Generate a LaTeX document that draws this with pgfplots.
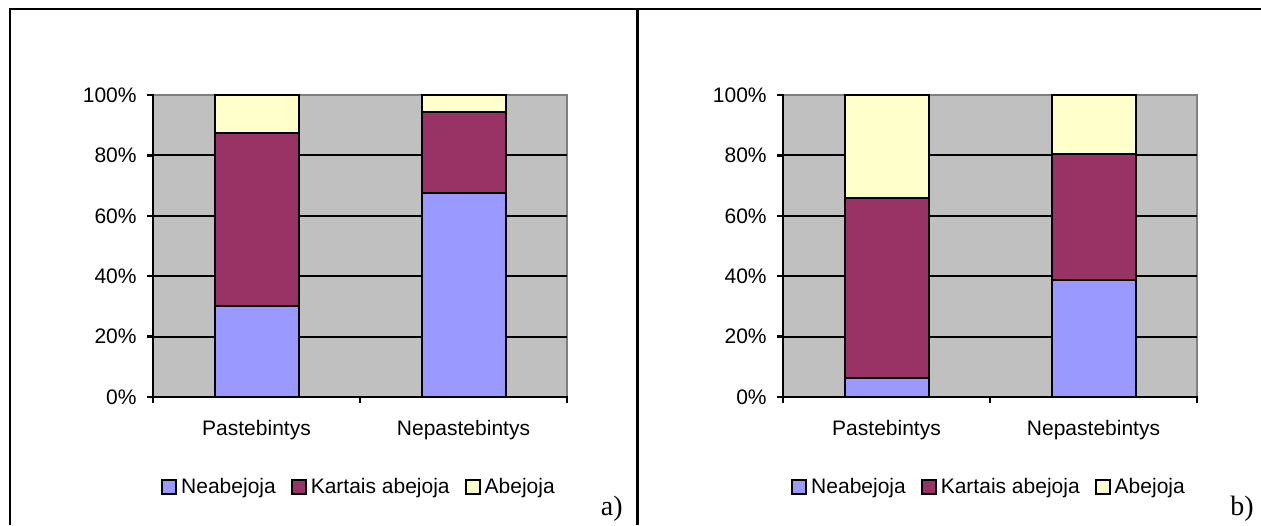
\documentclass[border=0pt]{standalone}
\usepackage{fontspec}
\setmainfont{Liberation Sans}
\newfontfamily\captionserif{Liberation Serif}
\usepackage{pgfplots}
\pgfplotsset{compat=1.18}

\definecolor{plotbg}{HTML}{C0C0C0}
\definecolor{plotframe}{HTML}{808080}
\definecolor{neab}{HTML}{9999FF}
\definecolor{kart}{HTML}{993366}
\definecolor{abej}{HTML}{FFFFCC}

\pgfplotsset{
  surveybars/.style={
    scale only axis, width=207pt, height=151pt,
    xmin=0, xmax=2, ymin=0, ymax=100,
    ybar stacked, bar width=42pt,
    clip=false,
    axis background/.style={fill=plotbg},
    axis line style={draw=plotframe, line width=1.1pt},
    xtick={0,1,2}, xticklabels={},
    ytick={0,20,...,100},
    yticklabel={\pgfmathprintnumber{\tick}\%},
    /pgf/number format/assume math mode=true,
    tick align=outside, xtick pos=left, ytick pos=left,
    major tick length=3pt,
    tick style={black, line width=1.2pt},
    extra x ticks={0.5,1.5},
    extra x tick labels={Pastebintys,Nepastebintys},
    extra x tick style={major tick length=0pt,
      tick label style={anchor=base, yshift=-19pt}},
    extra y ticks={20,40,60,80},
    extra y tick labels={,,,},
    extra y tick style={grid=major, major tick length=0pt},
    grid style={black, line width=1pt},
    yticklabel style={anchor=east, xshift=-1.5pt},
    legend columns=3,
    legend cell align=left,
    legend style={draw=none, fill=none, at={(0.5,-0.298)}, anchor=center,
      nodes={inner xsep=2pt},
      /tikz/every even column/.append style={column sep=5.5pt}},
  },
  surveybar/.style={fill=#1, draw=black, line width=1pt,
    legend image code/.code={%
      \draw[fill=#1, draw=black, line width=1pt] (0pt,-3.5pt) rectangle (7pt,3.5pt);}},
}

\begin{document}
\fontsize{10.5pt}{12.6pt}\selectfont
\begin{tikzpicture}
\useasboundingbox (0pt,0pt) rectangle (630.5pt,-262.5pt);
% table rules around the two panels
\draw[line width=1.4pt] (5pt,-262.5pt) -- (5pt,-4.5pt) -- (630.5pt,-4.5pt);
\draw[line width=1.4pt] (318.75pt,-4.5pt) -- (318.75pt,-262.5pt);

% panel a)
\begin{axis}[surveybars, at={(76.5pt,-198.5pt)}, anchor=south west]
\addplot[surveybar=neab] coordinates {(0.5,30.1) (1.5,67.4)};
\addplot[surveybar=kart] coordinates {(0.5,57.2) (1.5,27.0)};
\addplot[surveybar=abej] coordinates {(0.5,12.7) (1.5,5.6)};
\legend{Neabejoja,Kartais abejoja,Abejoja}
\draw[black, line width=1.4pt, line cap=rect] (rel axis cs:0,1) -- (rel axis cs:0,0) -- (rel axis cs:1,0);
\end{axis}
\node[anchor=base east, inner sep=0pt, font=\captionserif\fontsize{14pt}{16pt}\selectfont] at (311.5pt,-257.5pt) {a)};

% panel b)
\begin{axis}[surveybars, at={(391.5pt,-198.5pt)}, anchor=south west]
\addplot[surveybar=neab] coordinates {(0.5,6.4) (1.5,38.7)};
\addplot[surveybar=kart] coordinates {(0.5,59.6) (1.5,41.8)};
\addplot[surveybar=abej] coordinates {(0.5,34.0) (1.5,19.5)};
\legend{Neabejoja,Kartais abejoja,Abejoja}
\draw[black, line width=1.4pt, line cap=rect] (rel axis cs:0,1) -- (rel axis cs:0,0) -- (rel axis cs:1,0);
\end{axis}
\node[anchor=base east, inner sep=0pt, font=\captionserif\fontsize{14pt}{16pt}\selectfont] at (627pt,-257.5pt) {b)};
\end{tikzpicture}
\end{document}
